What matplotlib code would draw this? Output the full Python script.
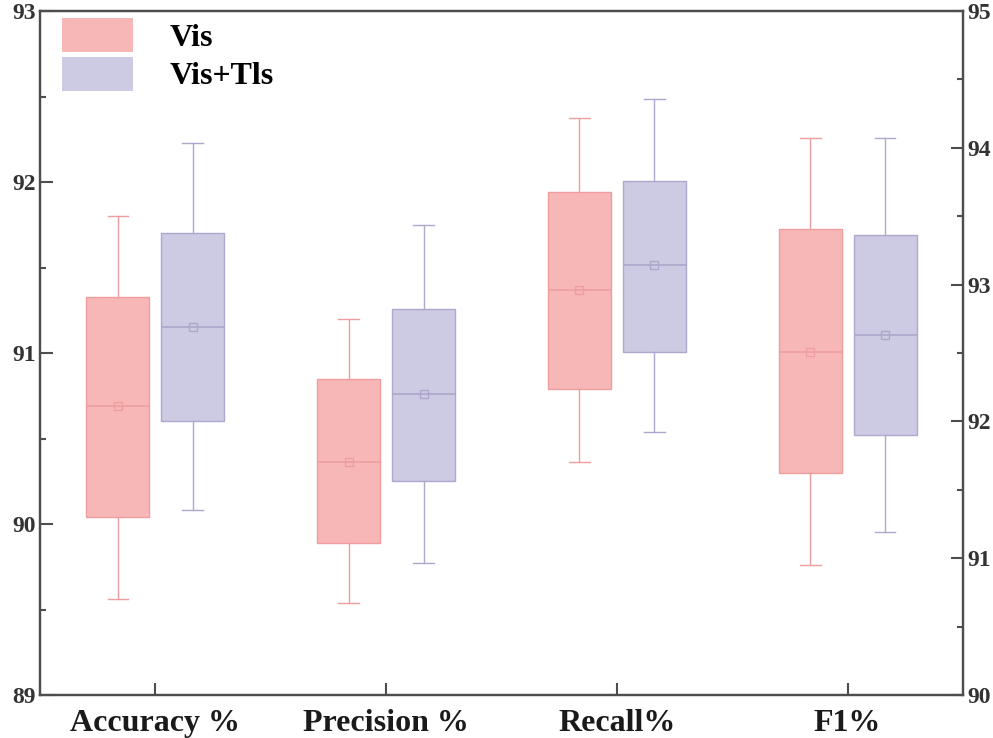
import matplotlib
matplotlib.use('Agg')
import matplotlib.pyplot as plt
from matplotlib.patches import Patch
from matplotlib.ticker import MultipleLocator

categories = ['Accuracy %', 'Precision %', 'Recall%', 'F1%']
series = ['Vis', 'Vis+Tls']

# summary stats per box: [whisker low, q1, median, q3, whisker high]
# left axis (89-93)
acc_vis = [89.56, 90.04, 90.69, 91.33, 91.80]
acc_vt = [90.08, 90.60, 91.15, 91.70, 92.23]
prec_vis = [89.54, 89.89, 90.36, 90.85, 91.20]
prec_vt = [89.77, 90.25, 90.76, 91.26, 91.75]
# right axis (90-95)
rec_vis = [91.70, 92.24, 92.96, 93.68, 94.22]
rec_vt = [91.92, 92.51, 93.14, 93.76, 94.36]
f1_vis = [90.95, 91.62, 92.51, 93.41, 94.07]
f1_vt = [91.19, 91.90, 92.63, 93.36, 94.07]

# means (approximately at median)
mean_vis = [90.69, 90.36, 92.96, 92.51]
mean_vt = [91.15, 90.76, 93.14, 92.63]

fill_colors = ['#F8B7B7', '#CDCAE3']
edge_colors = ['#EE9E9E', '#ADA8CC']
spine_color = '#4d4d4d'

FONT = 'Liberation Serif'

fig = plt.figure(figsize=(9.93, 7.38), dpi=100)
fig.patch.set_facecolor('white')
ax = fig.add_axes([40/993, 43/738, 923/993, 684/738])
ax2 = ax.twinx()


def stat(v, m):
    return dict(whislo=v[0], q1=v[1], med=v[2], q3=v[3], whishi=v[4], mean=m, fliers=[])


def draw(axis, pos, vals, mean, k):
    fc, ec = fill_colors[k], edge_colors[k]
    axis.bxp([stat(vals, mean)], positions=[pos], widths=0.273, capwidths=0.09,
             patch_artist=True, showmeans=True, showfliers=False,
             boxprops=dict(facecolor=fc, edgecolor=ec, linewidth=1.0),
             medianprops=dict(color=ec, linewidth=1.2),
             whiskerprops=dict(color=ec, linewidth=1.0),
             capprops=dict(color=ec, linewidth=1.0),
             meanprops=dict(marker='s', markerfacecolor='none', markeredgecolor=ec,
                            markersize=6, markeredgewidth=1.0))


off = 0.162
left_sets = [(acc_vis, acc_vt), (prec_vis, prec_vt)]
right_sets = [(rec_vis, rec_vt), (f1_vis, f1_vt)]
for i, (a, b) in enumerate(left_sets):
    draw(ax, i - off, a, mean_vis[i], 0)
    draw(ax, i + off, b, mean_vt[i], 1)
for j, (a, b) in enumerate(right_sets):
    i = j + 2
    draw(ax2, i - off, a, mean_vis[i], 0)
    draw(ax2, i + off, b, mean_vt[i], 1)

ax.set_xlim(-0.5, 3.5)
ax.set_ylim(89, 93)
ax2.set_ylim(90, 95)

ax.set_xticks(range(len(categories)))
ax.set_xticklabels(categories, fontfamily=FONT, fontweight='bold', fontsize=23)
ax.yaxis.set_major_locator(MultipleLocator(1))
ax.yaxis.set_minor_locator(MultipleLocator(0.5))
ax2.yaxis.set_major_locator(MultipleLocator(1))
ax2.yaxis.set_minor_locator(MultipleLocator(0.5))

for a in (ax, ax2):
    for s in a.spines.values():
        s.set_color(spine_color)
        s.set_linewidth(1.6)
    for lab in a.get_yticklabels():
        lab.set_fontfamily(FONT)
        lab.set_fontweight('bold')
        lab.set_fontsize(17)
        lab.set_color('#333333')

ax.tick_params(axis='y', which='major', direction='in', length=9, width=1.5, color=spine_color, pad=3)
ax.tick_params(axis='y', which='minor', direction='in', length=4.5, width=1.5, color=spine_color)
ax2.tick_params(axis='y', which='major', direction='in', length=9, width=1.5, color=spine_color, pad=3)
ax2.tick_params(axis='y', which='minor', direction='in', length=4.5, width=1.5, color=spine_color)
ax.tick_params(axis='x', which='major', direction='in', length=9, width=1.5, color=spine_color, pad=10,
               labelcolor='#1a1a1a')
ax.tick_params(axis='x', which='minor', bottom=False)

handles = [Patch(facecolor=fill_colors[0], edgecolor='none'),
           Patch(facecolor=fill_colors[1], edgecolor='none')]
ax2.legend(handles, series, loc='upper left', bbox_to_anchor=(22/923, 1 - 7/684),
           frameon=False, borderaxespad=0, borderpad=0,
           prop=dict(family=FONT, weight='bold', size=23),
           handlelength=2.22, handleheight=1.26, handletextpad=1.16, labelspacing=0.12)

fig.savefig('out.png', dpi=100)
